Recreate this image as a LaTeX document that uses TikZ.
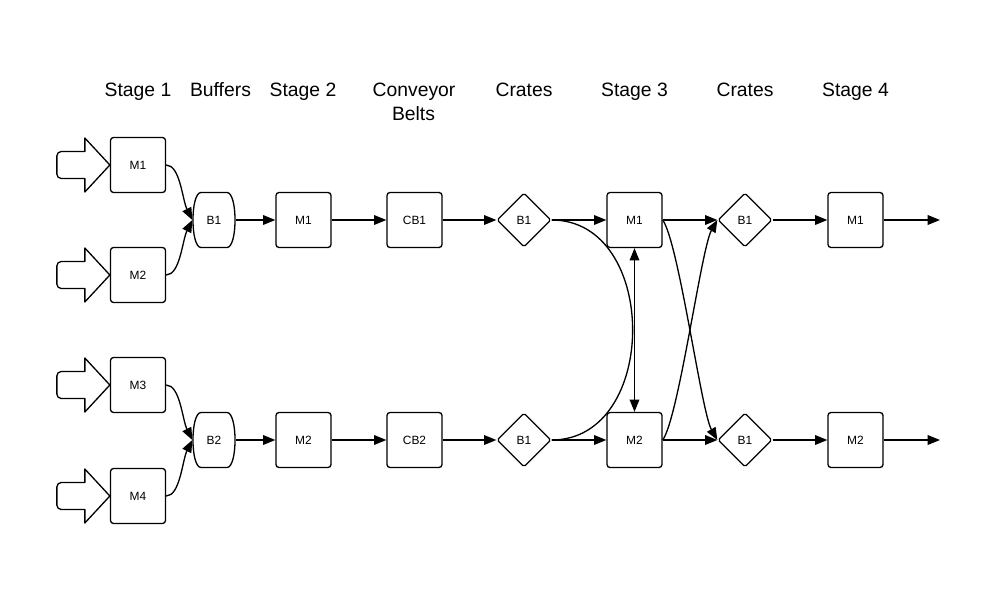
\documentclass[tikz,border=0pt]{standalone}
\usepackage{fontspec}
\setmainfont{Liberation Sans}
\usetikzlibrary{arrows.meta,shapes.geometric}
\begin{document}
\begin{tikzpicture}[x=0.02cm,y=-0.02cm,
  line width=0.75pt,
  >={Triangle[length=7pt,width=5.5pt]},
  lbl/.style={font=\fontsize{6.8}{8}\selectfont},
  box/.style={draw,rounded corners=1.7pt,minimum width=1.1cm,minimum height=1.1cm,inner sep=0pt,lbl},
  buf/.style={minimum width=0.84cm,minimum height=1.1cm,inner sep=0pt,lbl},
  crate/.style={draw,diamond,aspect=1,minimum width=1.08cm,minimum height=1.08cm,inner sep=0pt,rounded corners=1pt,lbl},
  title/.style={font=\fontsize{11}{13.6}\selectfont,anchor=base,inner sep=0pt},
  inarrow/.pic={\draw[line join=round] (0,0) -- (-25,-27) -- (-25,-13.5) [rounded corners=2.5pt] -- (-53,-13.5) -- (-53,13.5) [sharp corners] -- (-25,13.5) -- (-25,27) -- cycle;}
]
\useasboundingbox (0,0) rectangle (1000,588);

% titles
\node[title] (t1) at (138,96) {Stage 1};
\node[title] (t2) at (220.5,96) {Buffers};
\node[title] (t3) at (303,96) {Stage 2};
\node[title] (t4a) at (414,96) {Conveyor};
\node[title] (t4b) at (413.5,120) {Belts};
\node[title] (t5) at (524,96) {Crates};
\node[title] (t6) at (634.5,96) {Stage 3};
\node[title] (t7) at (745,96) {Crates};
\node[title] (t8) at (855.5,96) {Stage 4};

% stage 1
\node[box] (s1m1) at (138,165) {M1};
\node[box] (s1m2) at (138,275) {M2};
\node[box] (s1m3) at (138,385) {M3};
\node[box] (s1m4) at (138,496) {M4};
\pic at (s1m1.west) {inarrow};
\pic at (s1m2.west) {inarrow};
\pic at (s1m3.west) {inarrow};
\pic at (s1m4.west) {inarrow};

% buffers
\node[buf] (buf1) at (214,220) {B1};
\node[buf] (buf2) at (214,440) {B2};
\foreach \b in {buf1,buf2}{
  \draw[shift={(\b.center)}] (-13,-27.5) -- (13,-27.5) .. controls (23.7,-27.5) and (23.7,27.5) .. (13,27.5) -- (-13,27.5) .. controls (-23.7,27.5) and (-23.7,-27.5) .. cycle;
}

% stage 2
\node[box] (s2m1) at (303.5,220) {M1};
\node[box] (s2m2) at (303.5,440) {M2};
% conveyor belts
\node[box] (cb1) at (414.5,220) {CB1};
\node[box] (cb2) at (414.5,440) {CB2};
% crates
\node[crate] (cr1) at (524,220) {B1};
\node[crate] (cr2) at (524,440) {B1};
% stage 3
\node[box] (s3m1) at (634.5,220) {M1};
\node[box] (s3m2) at (634.5,440) {M2};
% crates
\node[crate] (cr3) at (745,220) {B1};
\node[crate] (cr4) at (745,440) {B1};
% stage 4
\node[box] (s4m1) at (855.5,220) {M1};
\node[box] (s4m2) at (855.5,440) {M2};
\coordinate (out1) at (940,220);
\coordinate (out2) at (940,440);

% connectors
\draw[->] (s1m1.east) .. controls +(14,0) and +(-10,-20) .. (buf1.west);
\draw[->] (s1m2.east) .. controls +(14,0) and +(-10,20) .. (buf1.west);
\draw[->] (s1m3.east) .. controls +(14,0) and +(-10,-20) .. (buf2.west);
\draw[->] (s1m4.east) .. controls +(14,0) and +(-10,20) .. (buf2.west);

\draw[->] (buf1.east) -- (s2m1.west);
\draw[->] (buf2.east) -- (s2m2.west);
\draw[->] (s2m1.east) -- (cb1.west);
\draw[->] (s2m2.east) -- (cb2.west);
\draw[->] (cb1.east) -- (cr1.west);
\draw[->] (cb2.east) -- (cr2.west);
\draw[->] (cr1.east) -- (s3m1.west);
\draw[->] (cr2.east) -- (s3m2.west);
\draw (cr1.east) .. controls +(108,0) and +(108,0) .. (cr2.east);
\draw[<->] (s3m1.south) -- (s3m2.north);

\draw[->] (s3m1.east) -- (cr3.west);
\draw[->] (s3m2.east) -- (cr4.west);
\draw[->] (s3m1.east) .. controls +(16,22) and +(-16,-28) .. (cr4.west);
\draw[->] (s3m2.east) .. controls +(16,-22) and +(-16,28) .. (cr3.west);
\draw[->] (cr3.east) -- (s4m1.west);
\draw[->] (cr4.east) -- (s4m2.west);
\draw[->] (s4m1.east) -- (out1);
\draw[->] (s4m2.east) -- (out2);
\end{tikzpicture}
\end{document}
